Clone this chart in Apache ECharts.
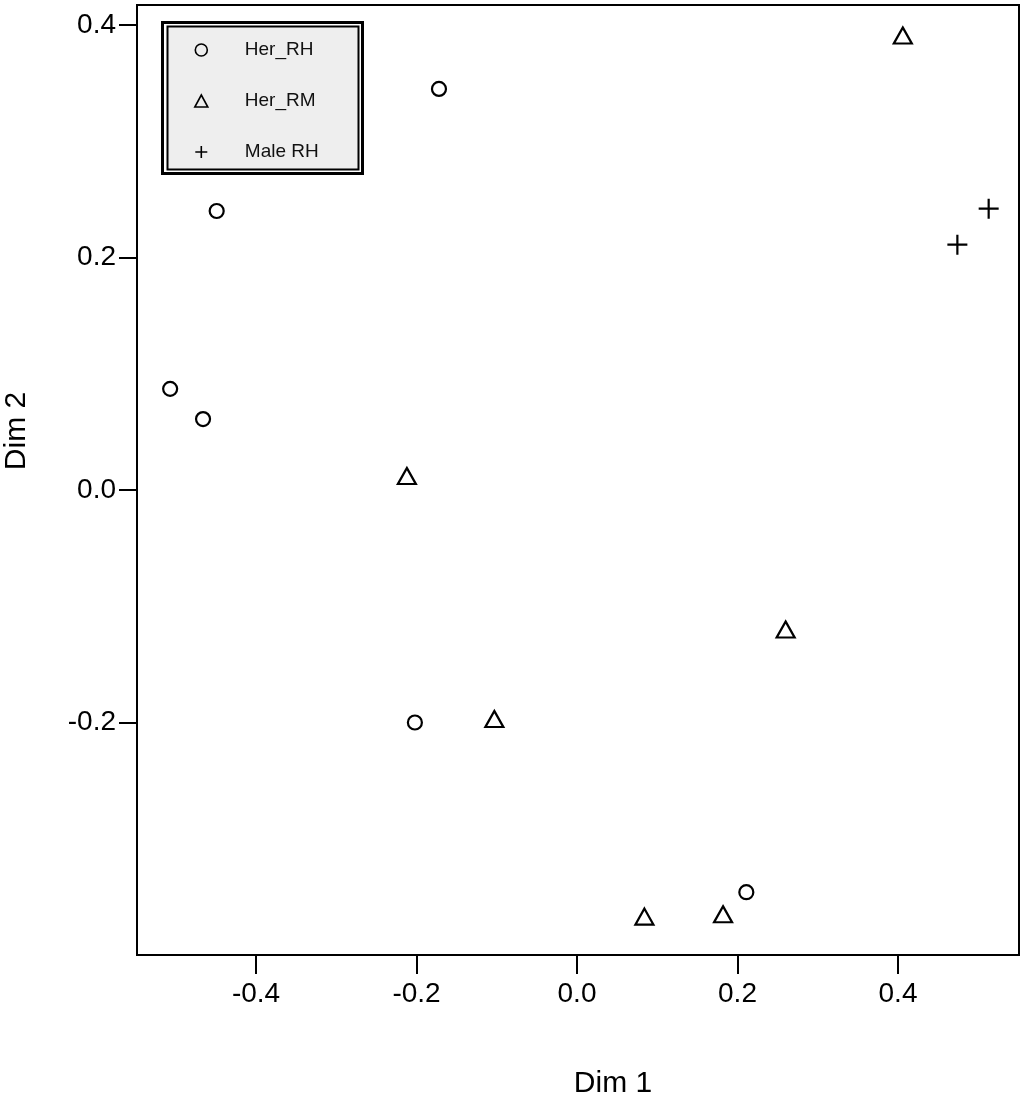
<!DOCTYPE html>
<html>
<head>
<meta charset="utf-8">
<script src="https://cdn.jsdelivr.net/npm/echarts@6/dist/echarts.min.js"></script>
<style>
html, body { margin: 0; padding: 0; background: #fff; }
#main { width: 1024px; height: 1102px; }
</style>
</head>
<body>
<div id="main"></div>
<script>
// points, [Dim 1, Dim 2]
var herRH = [
	[-0.172, 0.345],
	[-0.449, 0.240],
	[-0.507, 0.087],
	[-0.466, 0.061],
	[-0.202, -0.200],
	[0.211, -0.346]
];
var herRM = [
	[0.406, 0.391],
	[-0.212, 0.012],
	[-0.103, -0.197],
	[0.260, -0.120],
	[0.084, -0.367],
	[0.182, -0.365]
];
var maleRH = [
	[0.513, 0.242],
	[0.474, 0.211]
];
var seriesNames = ['Her_RH', 'Her_RM', 'Male RH'];
var xTicks = [-0.4, -0.2, 0.0, 0.2, 0.4];
var yTicks = [-0.2, 0.0, 0.2, 0.4];

var font = 'Liberation Sans, Arial, Helvetica, sans-serif';
var plus = 'path://M0,10L20,10M10,0L10,20';

var container = echarts.init(document.getElementById('main'));

//hollow black markers
var markStyle = {
	color: 'rgba(0,0,0,0)',
	borderColor: '#000',
	borderWidth: 2.2,
	opacity: 1
};

option = {
	animation: false,
	backgroundColor: '#fff',
	grid: {
		left: 137,
		right: 5,
		top: 5,
		bottom: 147,
		show: true,
		borderColor: '#000',
		borderWidth: 2,
		backgroundColor: 'rgba(0,0,0,0)'
	},
	xAxis: {
		type: 'value',
		min: -0.5483,
		max: 0.5508,
		splitLine: { show: false },
		axisLine: { show: false, onZero: false },
		axisTick: {
			show: true,
			customValues: xTicks,
			length: 19,
			lineStyle: { color: '#000', width: 2 }
		},
		axisLabel: {
			customValues: xTicks,
			margin: 25,
			color: '#000',
			fontSize: 28,
			fontFamily: font,
			formatter: function (v) { return v.toFixed(1); }
		}
	},
	yAxis: {
		type: 'value',
		min: -0.4,
		max: 0.4172,
		splitLine: { show: false },
		axisLine: { show: false, onZero: false },
		axisTick: {
			show: true,
			customValues: yTicks,
			length: 18,
			lineStyle: { color: '#000', width: 2 }
		},
		axisLabel: {
			customValues: yTicks,
			margin: 21,
			color: '#000',
			fontSize: 28,
			fontFamily: font,
			formatter: function (v) { return v.toFixed(1); }
		}
	},
	legend: {
		orient: 'vertical',
		left: 189,
		top: 34,
		itemWidth: 13,
		itemHeight: 12,
		itemGap: 29,
		selectedMode: false,
		itemStyle: { borderWidth: 1.6, opacity: 1 },
		textStyle: {
			color: '#111',
			fontSize: 19,
			fontFamily: font,
			lineHeight: 22,
			padding: [0, 0, 0, 32]
		},
		data: [
			{ name: seriesNames[0], icon: 'circle' },
			{ name: seriesNames[1], icon: 'triangle' },
			{ name: seriesNames[2], icon: plus }
		]
	},
	graphic: [
		//legend box, double border
		{
			type: 'rect',
			z: 0,
			shape: { x: 162.5, y: 22.5, width: 200, height: 151 },
			style: { fill: '#fff', stroke: '#000', lineWidth: 3 }
		},
		{
			type: 'rect',
			z: 0,
			shape: { x: 167.5, y: 26.5, width: 191, height: 143 },
			style: { fill: '#eeeeee', stroke: '#000', lineWidth: 2 }
		},
		{
			type: 'text',
			x: 613,
			y: 1084,
			style: {
				text: 'Dim 1',
				fill: '#000',
				font: '30px ' + font,
				align: 'center',
				verticalAlign: 'middle'
			}
		},
		{
			type: 'text',
			x: 17,
			y: 431,
			rotation: Math.PI / 2,
			style: {
				text: 'Dim 2',
				fill: '#000',
				font: '30px ' + font,
				align: 'center',
				verticalAlign: 'middle'
			}
		}
	],
	series: [
		{
			name: seriesNames[0],
			type: 'scatter',
			symbol: 'circle',
			symbolSize: 14,
			itemStyle: markStyle,
			data: herRH
		},
		{
			name: seriesNames[1],
			type: 'scatter',
			symbol: 'triangle',
			symbolSize: [18, 16],
			itemStyle: markStyle,
			data: herRM
		},
		{
			name: seriesNames[2],
			type: 'scatter',
			symbol: plus,
			symbolSize: 20,
			itemStyle: markStyle,
			data: maleRH
		}
	]
};
container.setOption(option, true);
</script>
</body>
</html>
